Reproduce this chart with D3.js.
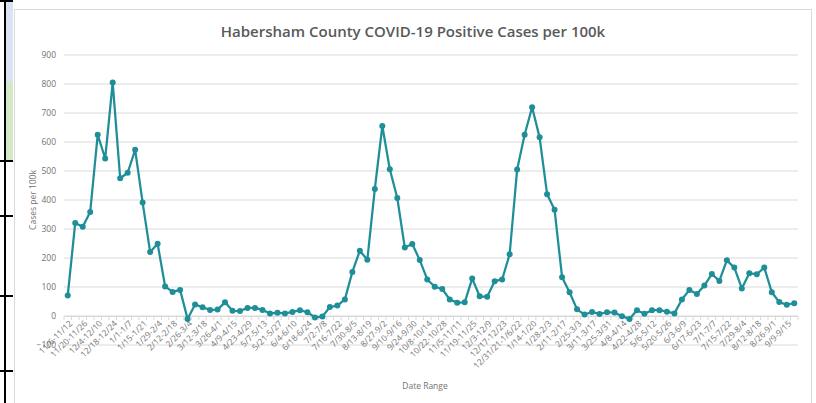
<!DOCTYPE html>
<html>
<head>
<meta charset="utf-8">
<script src="https://cdn.jsdelivr.net/npm/d3@7"></script>
<style>
  body { margin: 0; background: #fff; }
  text { font-family: "Open Sans", "Liberation Sans", sans-serif; }
</style>
</head>
<body>
<div id="chart"></div>
<script>
// weekly cases per 100k, 11/6/2020 -> 9/22/2022 (98 weeks)
var cases = [71, 321, 308, 359, 625, 543, 805, 475, 494, 573,
             391, 221, 249, 102, 83, 90, -10, 40, 30, 21,
             22, 47, 18, 17, 28, 28, 21, 9, 11, 9,
             14, 20, 13, -5, -2, 31, 36, 57, 152, 225,
             194, 438, 655, 506, 407, 236, 248, 193, 126, 101,
             93, 57, 46, 47, 129, 68, 66, 120, 126, 213,
             505, 625, 720, 616, 420, 366, 134, 82, 23, 5,
             14, 7, 13, 12, -1, -10, 20, 8, 20, 20,
             15, 9, 57, 90, 76, 105, 145, 121, 192, 167,
             95, 147, 144, 167, 82, 48, 39, 44];

// Excel shows every other category label
var tickLabels = ['11/6-11/12', '11/20-11/26', '12/4-12/10', '12/18-12/24', '1/1-1/7',
  '1/15-1/21', '1/29-2/4', '2/12-2/18', '2/26-3/4', '3/12-3/18', '3/26-4/1',
  '4/9-4/15', '4/23-4/29', '5/7-5/13', '5/21-5/27', '6/4-6/10', '6/18-6/24',
  '7/2-7/8', '7/16-7/22', '7/30-8/5', '8/13-8/19', '8/27-9/2', '9/10-9/16',
  '9/24-9/30', '10/8-10/14', '10/22-10/28', '11/5-11/11', '11/19-11/25',
  '12/3-12/9', '12/17-12/23', '12/31/21-1/6/22', '1/14-1/20', '1/28-2/3',
  '2/11-2/17', '2/25-3/3', '3/11-3/17', '3/25-3/31', '4/8-4/14', '4/22-4/28',
  '5/6-5/12', '5/20-5/26', '6/3-6/9', '6/17-6/23', '7/1-7/7', '7/15-7/22',
  '7/29-8/4', '8/12-8/18', '8/26-9/1', '9/9-9/15'];

var yTicks = [-100, 0, 100, 200, 300, 400, 500, 600, 700, 800, 900];

var width = 816, height = 403;
var plotL = 64, plotR = 798, plotT = 55, plotB = 345;
var lineColor = '#1e8e99';
var textColor = '#595959';
var tickColor = '#737373';

var svg = d3.select('#chart')
    .append('svg')
    .attr('width', width)
    .attr('height', height);

// spreadsheet cells peeking out on the left
svg.append('rect').attr('x', 6).attr('y', 0).attr('width', 7).attr('height', 82).attr('fill', '#dae3f3');
svg.append('rect').attr('x', 6).attr('y', 82).attr('width', 7).attr('height', 78).attr('fill', '#d6e9c6');
svg.append('rect').attr('x', 4).attr('y', 0).attr('width', 2).attr('height', height).attr('fill', '#000');
[0, 160, 215, 295, 370].forEach(function(yy) {
    svg.append('rect').attr('x', 0).attr('y', yy).attr('width', 13).attr('height', 2).attr('fill', '#000');
});

// chart area border
svg.append('rect')
    .attr('x', 14.5).attr('y', 9.5)
    .attr('width', 797).attr('height', 400)
    .attr('fill', '#fff')
    .attr('stroke', '#d9d9d9');

var x = d3.scaleBand()
    .domain(d3.range(cases.length))
    .range([plotL, plotR]);

var y = d3.scaleLinear()
    .domain([-100, 900])
    .range([plotB, plotT]);

// gridlines
svg.append('g')
    .selectAll('line')
    .data(yTicks)
    .join('line')
    .attr('x1', plotL).attr('x2', plotR)
    .attr('y1', d => y(d)).attr('y2', d => y(d))
    .attr('stroke', '#d9d9d9')
    .attr('stroke-width', 1);

// y axis labels
var yAxis = svg.append('g')
    .attr('transform', `translate(${plotL - 8},0)`)
    .call(d3.axisLeft(y).tickValues(yTicks).tickSize(0).tickPadding(0));
yAxis.select('.domain').remove();
yAxis.selectAll('text')
    .attr('fill', tickColor)
    .style('font-size', '8.5px');

// x axis sits on zero
var xAxis = svg.append('g')
    .attr('transform', `translate(0,${y(0)})`)
    .call(d3.axisBottom(x).tickSize(0).tickFormat(''));
xAxis.select('.domain').attr('stroke', '#d9d9d9');

// tick marks on category boundaries
xAxis.append('g')
    .selectAll('line')
    .data(d3.range(cases.length + 1))
    .join('line')
    .attr('x1', d => plotL + d * x.step()).attr('x2', d => plotL + d * x.step())
    .attr('y1', 0).attr('y2', 4)
    .attr('stroke', '#d9d9d9');

xAxis.append('g')
    .selectAll('text')
    .data(tickLabels)
    .join('text')
    .attr('transform', (d, i) => `translate(${x(i * 2) + x.bandwidth() / 2 + 3},${6})rotate(-45)`)
    .attr('text-anchor', 'end')
    .attr('dy', '0.35em')
    .attr('fill', tickColor)
    .style('font-size', '8.5px')
    .text(d => d);

// line + markers
var line = d3.line()
    .x((d, i) => x(i) + x.bandwidth() / 2)
    .y(d => y(d));

svg.append('path')
    .datum(cases)
    .attr('d', line)
    .attr('fill', 'none')
    .attr('stroke', lineColor)
    .attr('stroke-width', 2.25)
    .attr('stroke-linejoin', 'round');

svg.append('g')
    .selectAll('circle')
    .data(cases)
    .join('circle')
    .attr('cx', (d, i) => x(i) + x.bandwidth() / 2)
    .attr('cy', d => y(d))
    .attr('r', 3)
    .attr('fill', lineColor);

// titles
svg.append('text')
    .attr('x', 413).attr('y', 37)
    .attr('text-anchor', 'middle')
    .attr('fill', textColor)
    .style('font-size', '15px')
    .style('font-weight', '600')
    .text('Habersham County COVID-19 Positive Cases per 100k');

svg.append('text')
    .attr('transform', `translate(36,${(plotT + plotB) / 2})rotate(-90)`)
    .attr('text-anchor', 'middle')
    .attr('fill', tickColor)
    .style('font-size', '8.5px')
    .text('Cases per 100k');

svg.append('text')
    .attr('x', 425).attr('y', 389)
    .attr('text-anchor', 'middle')
    .attr('fill', tickColor)
    .style('font-size', '8.5px')
    .text('Date Range');
</script>
</body>
</html>
